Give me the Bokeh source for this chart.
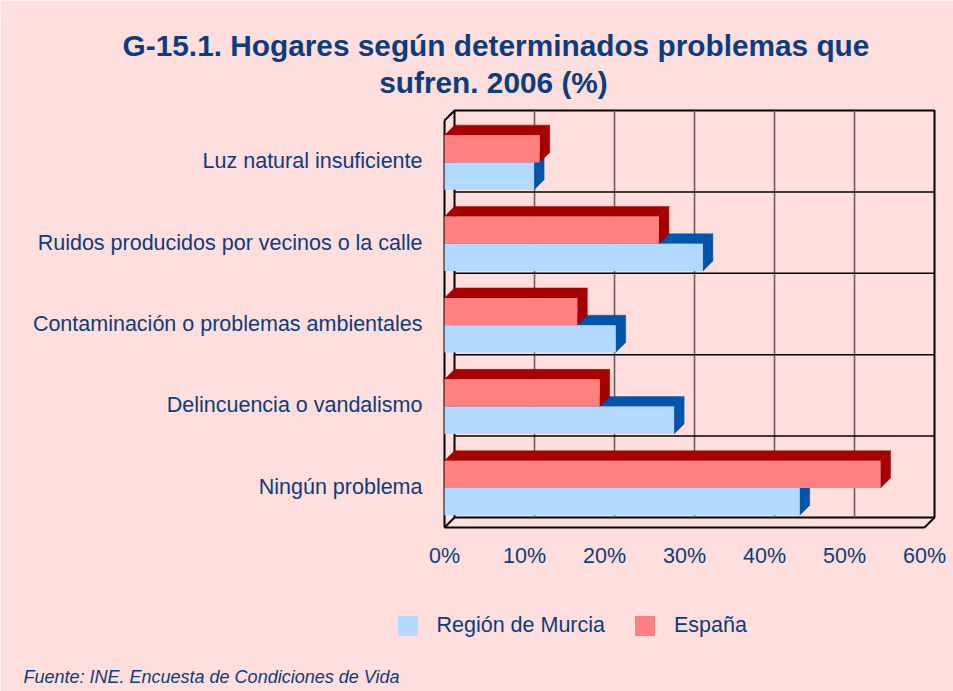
from bokeh.plotting import figure
from bokeh.models import (ColumnDataSource, FixedTicker, PrintfTickFormatter, Label,
                          Legend, LegendItem, Range1d, LinearAxis)
from bokeh.embed import file_html
from bokeh.resources import INLINE

# ---------------- data ----------------
categories = ["Ningún problema",
              "Delincuencia o vandalismo",
              "Contaminación o problemas ambientales",
              "Ruidos producidos por vecinos o la calle",
              "Luz natural insuficiente"]
murcia = [44.4, 28.7, 21.4, 32.3, 11.2]
espana = [54.5, 19.4, 16.6, 26.8, 11.9]
x_ticks = [0, 10, 20, 30, 40, 50, 60]
series_names = ["Región de Murcia", "España"]
title_lines = ["G-15.1. Hogares según determinados problemas que", "sufren. 2006 (%)"]
source_text = "Fuente: INE. Encuesta de Condiciones de Vida"

# ---------------- style ----------------
BG = "#FFDEDE"
TXT = "#0C3D7D"
FONT = "Liberation Sans"
LIGHT = {"Región de Murcia": "#B3D9FF", "España": "#FF8080"}
DARK = {"Región de Murcia": "#0055AA", "España": "#A60000"}
W, H = 953, 691
PX_X = 8.0        # pixels per 1 %
PX_Y = 81.4       # pixels per category band
X0_PX = 444       # screen x of 0 %
Y0_PX = 527       # screen y of the front floor edge
DX = 10 / PX_X    # depth offset (x, data units)
DY = 10 / PX_Y    # depth offset (y, data units)
BAR_H = 0.335
BAR_BASE = 0.15
N = len(categories)
XMAX = x_ticks[-1]
Y0 = -0.5
YTOP = Y0 + N

p = figure(width=W, height=H, output_backend="svg", toolbar_location=None,
           x_range=Range1d(-X0_PX / PX_X, (W - X0_PX) / PX_X),
           y_range=Range1d(Y0 - (H - Y0_PX) / PX_Y, Y0 + Y0_PX / PX_Y),
           x_axis_type=None, y_axis_type=None, min_border=0)
p.background_fill_color = BG
p.border_fill_color = BG
p.outline_line_color = None
p.xgrid.visible = False
p.ygrid.visible = False

# ---------------- box / walls ----------------
p.quad(left=[DX], right=[XMAX + DX], bottom=[Y0 + DY], top=[YTOP + DY],
       fill_color=BG, line_color="black", line_width=2)
vx = [t + DX for t in x_ticks[1:-1]]
p.segment(x0=vx, y0=[Y0 + DY] * len(vx), x1=vx, y1=[YTOP + DY] * len(vx),
          line_color="#6E5C5C", line_width=1.6)
hy = [Y0 + k + DY for k in range(1, N)]
p.segment(x0=[DX] * len(hy), y0=hy, x1=[XMAX + DX] * len(hy), y1=hy,
          line_color="black", line_width=1.5)
ex0 = [0, XMAX, 0, 0, 0]
ey0 = [Y0, Y0, Y0, YTOP, Y0]
ex1 = [XMAX, XMAX + DX, 0, DX, DX]
ey1 = [Y0, Y0 + DY, YTOP, YTOP + DY, Y0 + DY]
p.segment(x0=ex0, y0=ey0, x1=ex1, y1=ey1, line_color="black", line_width=2)

# ---------------- 3D bars ----------------
front = {}
for s_idx, (name, vals) in enumerate(zip(series_names, [murcia, espana])):
    bottoms = [Y0 + i + BAR_BASE + s_idx * BAR_H for i in range(N)]
    tops = [b + BAR_H for b in bottoms]
    side_xs, side_ys, top_xs, top_ys = [], [], [], []
    for v, b, t in zip(vals, bottoms, tops):
        side_xs.append([v, v + DX, v + DX, v])
        side_ys.append([b, b + DY, t + DY, t])
        top_xs.append([0, v, v + DX, DX])
        top_ys.append([t, t, t + DY, t + DY])
    p.patches(xs=side_xs, ys=side_ys, fill_color=DARK[name], line_color=DARK[name], line_width=0.5)
    p.patches(xs=top_xs, ys=top_ys, fill_color=DARK[name], line_color=DARK[name], line_width=0.5)
    src = ColumnDataSource(dict(left=[0] * N, right=vals, bottom=bottoms, top=tops))
    front[name] = p.quad(left="left", right="right", bottom="bottom", top="top", source=src,
                         fill_color=LIGHT[name], line_color=None)

# ---------------- axes (fixed inside the full-canvas frame) ----------------
yax = LinearAxis(ticker=FixedTicker(ticks=list(range(N))),
                 fixed_location=-(X0_PX - 440) / PX_X)
yax.major_label_overrides = {i: c for i, c in enumerate(categories)}
xax = LinearAxis(ticker=FixedTicker(ticks=x_ticks),
                 formatter=PrintfTickFormatter(format="%d%%"),
                 fixed_location=Y0 - 5 / PX_Y)
for ax in (xax, yax):
    ax.axis_line_color = None
    ax.major_tick_line_color = None
    ax.minor_tick_line_color = None
    ax.major_tick_out = 0
    ax.major_tick_in = 0
    ax.minor_tick_out = 0
    ax.major_label_text_font = FONT
    ax.major_label_text_font_size = "21.5px"
    ax.major_label_text_color = TXT
yax.major_label_standoff = 18
xax.major_label_standoff = 11
p.add_layout(yax, "left")
p.add_layout(xax, "below")

# ---------------- legend ----------------
legend = Legend(items=[LegendItem(label=n, renderers=[front[n]]) for n in series_names],
                location=(394.5, 53), orientation="horizontal",
                glyph_width=25, glyph_height=25, label_standoff=17, spacing=27,
                padding=0, margin=0, border_line_color=None, background_fill_alpha=0,
                label_text_font=FONT, label_text_font_size="21.5px", label_text_color=TXT)
p.add_layout(legend)

# ---------------- texts ----------------
for txt, x, y in zip(title_lines, [495.5, 493], [45, 82]):
    p.add_layout(Label(x=x, y=H - y, x_units="screen", y_units="screen", text=txt,
                       text_align="center", text_baseline="alphabetic",
                       text_font=FONT, text_font_size="29.8px", text_font_style="bold",
                       text_color=TXT))
p.add_layout(Label(x=23, y=H - 676.7, x_units="screen", y_units="screen",
                   text=source_text, text_align="left", text_baseline="alphabetic",
                   text_font=FONT, text_font_size="18px", text_font_style="italic",
                   text_color=TXT))

open("out.html", "w").write(file_html(p, INLINE))
